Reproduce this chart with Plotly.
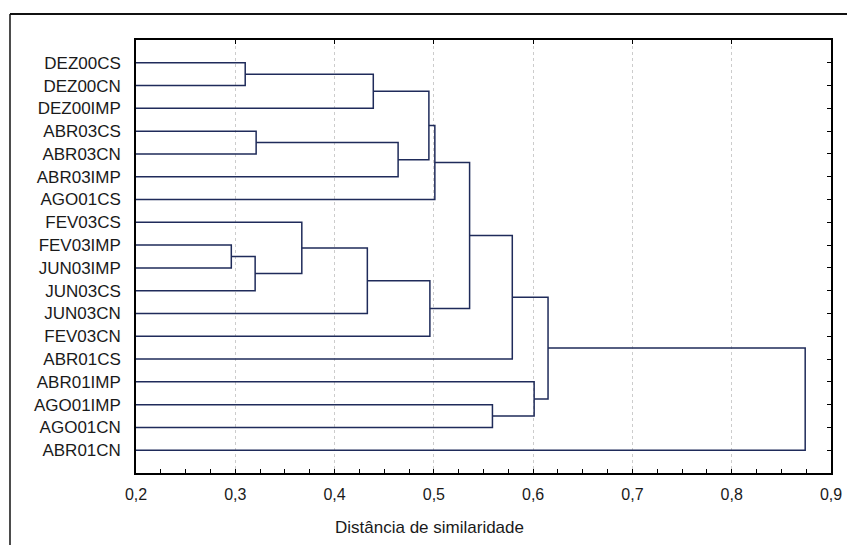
import plotly.graph_objects as go

# ---------------- data ----------------
labels = ["DEZ00CS", "DEZ00CN", "DEZ00IMP", "ABR03CS", "ABR03CN", "ABR03IMP",
          "AGO01CS", "FEV03CS", "FEV03IMP", "JUN03IMP", "JUN03CS", "JUN03CN",
          "FEV03CN", "ABR01CS", "ABR01IMP", "AGO01IMP", "AGO01CN", "ABR01CN"]

# linkage: (child_a, child_b, distance); new clusters numbered from len(labels)
merge_a = [0, 18, 3, 20, 19, 22, 8, 24, 7, 26, 27, 23, 29, 15, 14, 30, 33]
merge_b = [1, 2, 4, 5, 21, 6, 9, 10, 25, 11, 12, 28, 13, 16, 31, 32, 17]
merge_d = [0.310, 0.439, 0.321, 0.464, 0.495, 0.501, 0.296, 0.320, 0.367,
           0.433, 0.496, 0.536, 0.579, 0.559, 0.601, 0.615, 0.874]

x_ticks = [0.2, 0.3, 0.4, 0.5, 0.6, 0.7, 0.8, 0.9]
x_title = "Distância de similaridade"

# ---------------- build dendrogram coordinates ----------------
n = len(labels)
rows = list(range(1, n + 1))
pos = {i: rows[i] for i in range(n)}
height = {i: 0.0 for i in range(n)}
xs, ys = [], []
for k, (a, b, d) in enumerate(zip(merge_a, merge_b, merge_d)):
    xs += [height[a], d, d, height[b], None]
    ys += [pos[a], pos[a], pos[b], pos[b], None]
    pos[n + k] = (pos[a] + pos[b]) / 2
    height[n + k] = d

LINE = "#1f2b5a"
fig = go.Figure()
fig.add_trace(go.Scatter(x=xs, y=ys, mode="lines",
                         line=dict(color=LINE, width=1.5),
                         hoverinfo="skip", showlegend=False))
# helper trace for the tick-only mirror axes
fig.add_trace(go.Scatter(x=[None], y=[None], xaxis="x2", yaxis="y2",
                         showlegend=False, hoverinfo="skip"))

FAM = "Liberation Sans, Arial, sans-serif"
font_main = dict(family=FAM, size=16, color="#1a1a1a")
font_lab = dict(family=FAM, size=17, color="#1a1a1a")
yrange = [n + 1, 0]
xrange = [0.2, 0.9]

fig.update_layout(
    width=847, height=537,
    margin=dict(l=128, r=24, t=32, b=72),
    paper_bgcolor="white", plot_bgcolor="white",
    separators=", ",
    font=font_main,
    xaxis=dict(range=xrange, tickvals=x_ticks, ticks="inside", ticklen=4,
               tickcolor="black", tickwidth=1,
               showline=True, linecolor="black", linewidth=1.5, mirror=True,
               showgrid=True, gridcolor="#cccccc", griddash="dot", gridwidth=1,
               zeroline=False, tickformat=".1f", ticklabelstandoff=6,
               tickfont=font_main,
               minor=dict(dtick=0.025, tick0=0.2, ticks="inside", ticklen=4,
                          tickcolor="black", showgrid=False)),
    yaxis=dict(range=yrange, tickvals=rows, ticktext=labels, ticks="",
               showline=True, linecolor="black", linewidth=1.5, mirror=True,
               showgrid=False, zeroline=False, ticklabelstandoff=10,
               tickfont=font_lab),
    xaxis2=dict(range=xrange, overlaying="x", side="top", tickvals=x_ticks,
                ticks="inside", ticklen=4, tickcolor="black",
                showticklabels=False, showgrid=False, zeroline=False, showline=False),
    yaxis2=dict(range=yrange, overlaying="y", side="right", tickvals=rows,
                ticks="inside", ticklen=4, tickcolor="black",
                showticklabels=False, showgrid=False, zeroline=False, showline=False),
    annotations=[dict(text=x_title, xref="paper", yref="paper",
                      x=0.423, y=-0.125, xanchor="center", yanchor="middle",
                      showarrow=False, font=font_lab)],
    shapes=[
        dict(type="line", xref="paper", yref="paper", x0=-0.1813, x1=1.06,
             y0=1.06, y1=1.06, line=dict(color="#111", width=2)),
        dict(type="line", xref="paper", yref="paper", x0=-0.1813, x1=-0.1813,
             y0=1.06, y1=-0.2, line=dict(color="#111", width=1.5)),
    ],
)

fig.write_html("out.html")
